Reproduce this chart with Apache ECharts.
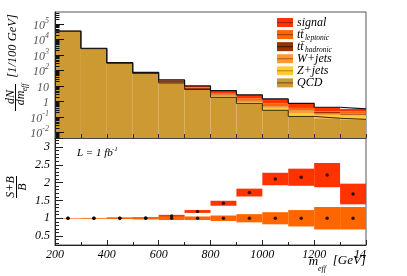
<!DOCTYPE html>
<html><head><meta charset="utf-8">
<script src="https://cdn.jsdelivr.net/npm/echarts@6/dist/echarts.min.js"></script>
<style>html,body{margin:0;padding:0;background:#fff}#c{width:407px;height:276px}</style>
</head><body><div id="c"></div>
<script>
// ---- data ----
const binEdges = [200,300,400,500,600,700,800,900,1000,1100,1200,1300,1400];
const binCenters = [250,350,450,550,650,750,850,950,1050,1150,1250,1350];
const qcd    = [34000, 2550, 290, 64, 15.6, 5.9, 1.85, 0.75, 0.27, 0.108, 0.083, 0.07];
const zjets  = [300, 30, 5, 1.5, 0.4, 0.2, 0.3, 0.13, 0.12, 0.065, 0.05, 0.05];
const wjets  = [400, 50, 6, 1.5, 0.5, 0.3, 0.4, 0.15, 0.1, 0.1, 0.035, 0.02];
const ttHad  = [200, 50, 12, 7, 6, 1.5, 0.3, 0.1, 0.02, 0.01, 0.045, 0.02];
const ttLep  = [100, 15, 3, 1.5, 1, 0.5, 0.6, 0.45, 0.24, 0.1, 0.01, 0.07];
const signal = [30, 5, 2, 0.5, 0.9, 1.6, 1.55, 1.12, 0.7, 0.38, 0.2, 0.1];
const ratio    = [1.0, 1.0, 1.003, 1.01, 1.06, 1.19, 1.42, 1.72, 2.10, 2.15, 2.21, 1.68];
const ratioErr = [0.004, 0.005, 0.012, 0.025, 0.035, 0.04, 0.07, 0.11, 0.175, 0.24, 0.34, 0.29];
const bkgErr   = [0.006, 0.01, 0.022, 0.035, 0.05, 0.05, 0.077, 0.115, 0.17, 0.23, 0.315, 0.315];
const xTickLabels = ['200','400','600','800','1000','1200','14'];
const ratioTickLabels = ['0.5','1','1.5','2','2.5','3'];
const legendNames = ['signal','tt̄','tt̄','W+jets','Z+jets','QCD'];
const legendSubs  = ['','leptonic','hadronic','','',''];

const FONT = 'Liberation Serif';
const comps = [
  {vals: qcd,    color:'#cc9933'},
  {vals: zjets,  color:'#ffcc33'},
  {vals: wjets,  color:'#ff9933'},
  {vals: ttHad,  color:'#993300'},
  {vals: ttLep,  color:'#ff6600'},
  {vals: signal, color:'#ff3300'}
];
const legendCols = [['#ff3300','#a52000'],['#ff6600','#a84200'],['#993300','#4d1a00'],['#ff9933','#c06010'],['#ffcc33','#c09010'],['#cc9933','#7a5a1a']];

function rectRender(color){
  return function(params, api){
    const a = api.coord([api.value(0), api.value(3)]);
    const b = api.coord([api.value(1), api.value(2)]);
    return {type:'rect', shape:{x:a[0], y:a[1], width:b[0]-a[0], height:b[1]-a[1]}, style:{fill:color}};
  };
}
const series = [];
const cum = binCenters.map(()=>0);
const tops = [];
comps.forEach(c=>{
  const data = c.vals.map((v,i)=>{
    const lo = cum[i]; const hi = lo + v; cum[i] = hi;
    return [binEdges[i], binEdges[i+1], lo>0?lo:1e-4, hi];
  });
  tops.push(cum.slice());
  series.push({type:'custom', xAxisIndex:0, yAxisIndex:0, clip:true, encode:{x:[0,1], y:[2,3]}, data, renderItem: rectRender(c.color), z:2, silent:true});
});
function stepData(t){ const d = t.map((v,i)=>[binEdges[i], v]); d.push([binEdges[binEdges.length-1], t[t.length-1]]); return d; }
series.push({type:'line', xAxisIndex:0, yAxisIndex:0, step:'end', data: stepData(tops[0]), symbol:'none', clip:true, lineStyle:{color:'#3a2a08', width:1}, z:3, silent:true});
series.push({type:'line', xAxisIndex:0, yAxisIndex:0, step:'end', data: stepData(tops[5]), symbol:'none', clip:true, lineStyle:{color:'#111', width:1.2}, z:4, silent:true});

// log axis ticks (decoration)
const logTicks = [];
for (let k=-3; k<=5; k++) for (let m=1; m<=9; m++) {
  const v = m*Math.pow(10,k);
  if (v>0.0044 && v<5.9e5) logTicks.push([200, v, m===1?9:4.5]);
}
series.push({type:'custom', xAxisIndex:0, yAxisIndex:0, encode:{x:0,y:1}, data: logTicks, z:6, silent:true,
  renderItem:function(p, api){ const c = api.coord([api.value(0), api.value(1)]); const y = Math.round(c[1])+0.5;
    return {type:'line', shape:{x1:c[0], y1:y, x2:c[0]+api.value(2), y2:y}, style:{stroke:'#111', lineWidth:1}}; }});

// ratio panel
series.push({type:'custom', xAxisIndex:1, yAxisIndex:1, clip:true, encode:{x:[0,1], y:[2,3]}, z:2, silent:true,
  data: ratio.map((r,i)=>[binEdges[i], binEdges[i+1], r-ratioErr[i], r+ratioErr[i]]), renderItem: rectRender('#ff3300')});
series.push({type:'custom', xAxisIndex:1, yAxisIndex:1, clip:true, encode:{x:[0,1], y:[2,3]}, z:3, silent:true,
  data: bkgErr.map((e,i)=>[binEdges[i], binEdges[i+1], 1-e, 1+e]), renderItem: rectRender('#ff6600')});
series.push({type:'scatter', xAxisIndex:1, yAxisIndex:1, symbolSize:3.5, itemStyle:{color:'#000'}, z:5, silent:true,
  data: binCenters.map(c=>[c,1]).concat(binCenters.map((c,i)=>[c, ratio[i]]))});

const italic = {fontFamily: FONT, fontStyle:'italic', color:'#000'};
const chart = echarts.init(document.getElementById('c'), null, {width:407, height:276});

function T(x, y, text, size, opts){
  return Object.assign({type:'text', x:x, y:y, z:21, style:{text:text, font:'italic '+size+'px '+FONT, fill:'#000',
    textAlign:(opts&&opts.align)||'left', textVerticalAlign:'middle'}}, (opts&&opts.rot)?{rotation:Math.PI/2}:{});
}
const graphic = [];
legendNames.forEach((n,i)=>{
  const cy = 22.5 + i*12.07;
  graphic.push({type:'rect', shape:{x:277, y:cy-4.5, width:16, height:9}, style:{fill:legendCols[i][0]}, z:20});
  graphic.push({type:'line', shape:{x1:277, y1:cy, x2:293, y2:cy}, style:{stroke:legendCols[i][1], lineWidth:1.2}, z:21});
  graphic.push(T(297, cy, n, 12));
  if (legendSubs[i]) graphic.push(T(305, cy+3.5, legendSubs[i], 7.5));
});
// top y title
graphic.push(T(11, 97, 'dN', 12, {rot:true, align:'center'}));
graphic.push({type:'line', shape:{x1:15.5, y1:84, x2:15.5, y2:111}, style:{stroke:'#000', lineWidth:1}});
graphic.push(T(20.5, 98, 'dm', 12, {rot:true, align:'center'}));
graphic.push(T(25, 87.5, 'eff', 7.5, {rot:true, align:'center'}));
graphic.push(T(13, 46, '[1/100 GeV]', 12.5, {rot:true, align:'center'}));
// bottom y title
graphic.push(T(10.5, 187, 'S+B', 12, {rot:true, align:'center'}));
graphic.push({type:'line', shape:{x1:16.5, y1:176, x2:16.5, y2:198}, style:{stroke:'#000', lineWidth:1}});
graphic.push(T(23, 187, 'B', 12, {rot:true, align:'center'}));
// luminosity
graphic.push(T(77, 153, 'L = 1 fb', 11));
graphic.push(T(112, 149.5, '-1', 7));
// x title
graphic.push(T(366, 260.5, '[GeV]', 13, {align:'right'}));
graphic.push(T(313.5, 262, 'm', 13, {align:'center'}));
graphic.push(T(318, 269, 'eff', 8));

function isDecade(v){ const l = Math.log10(v); return Math.abs(l-Math.round(l))<0.01; }

chart.setOption({
  animation:false,
  backgroundColor:'#fff',
  grid:[
    {left:55, top:12, width:311, height:126, show:true, borderColor:'#555', borderWidth:1, backgroundColor:'transparent'},
    {left:55, top:138, width:311, height:107, show:true, borderColor:'#555', borderWidth:1, backgroundColor:'transparent'}
  ],
  xAxis:[
    {gridIndex:0, type:'value', min:200, max:1400, interval:100, z:10,
     axisLabel:{show:false}, splitLine:{show:false},
     axisLine:{show:true, lineStyle:{color:'#444', width:1}},
     axisTick:{show:true, inside:true, length:4, lineStyle:{color:'#333'}}},
    {gridIndex:1, type:'value', min:200, max:1400, interval:200, z:10, splitLine:{show:false},
     axisLine:{show:true, lineStyle:{color:'#222', width:1}},
     axisTick:{show:true, inside:true, length:5, lineStyle:{color:'#222'}},
     minorTick:{show:true, splitNumber:2, length:3, lineStyle:{color:'#222'}},
     axisLabel:Object.assign({fontSize:12, margin:4, rich:{c:{fontFamily:FONT, fontStyle:'italic', fontSize:12, padding:[0,12,0,0]}},
       formatter:function(v){ const i = Math.round((v-200)/200); const s = xTickLabels[i]; return v===1400 ? '{c|'+s+'}' : s; }}, italic)}
  ],
  yAxis:[
    {gridIndex:0, type:'log', logBase:10, min:0.0044, max:5.9e5, z:10, splitLine:{show:false},
     axisLine:{show:true, lineStyle:{color:'#222', width:1}},
     axisTick:{show:false},
     axisLabel:{margin:6, rich:{b:{fontFamily:FONT, fontStyle:'italic', fontSize:12, lineHeight:15, verticalAlign:'bottom'}, s:{fontFamily:FONT, fontStyle:'italic', fontSize:8, lineHeight:8, verticalAlign:'top'}},
       formatter:function(v){ if(!isDecade(v)) return ''; const e = Math.round(Math.log10(v)); if(e===0) return '{b|1}'; if(e===1) return '{b|10}'; return '{b|10}{s|'+e+'}'; }}},
    {gridIndex:1, type:'value', min:0.25, max:3.25, splitNumber:6, z:10, splitLine:{show:false},
     axisLine:{show:true, lineStyle:{color:'#222', width:1}},
     axisTick:{show:true, inside:true, length:8, lineStyle:{color:'#222'}},
     minorTick:{show:true, splitNumber:5, length:4, lineStyle:{color:'#222'}},
     axisLabel:Object.assign({fontSize:12, margin:5, formatter:function(v){ const k = Math.round(v*2); if(Math.abs(v*2-k)>1e-6 || k<1 || k>6) return ''; return ratioTickLabels[k-1]; }}, italic)}
  ],
  graphic: graphic,
  series: series
});
</script></body></html>
